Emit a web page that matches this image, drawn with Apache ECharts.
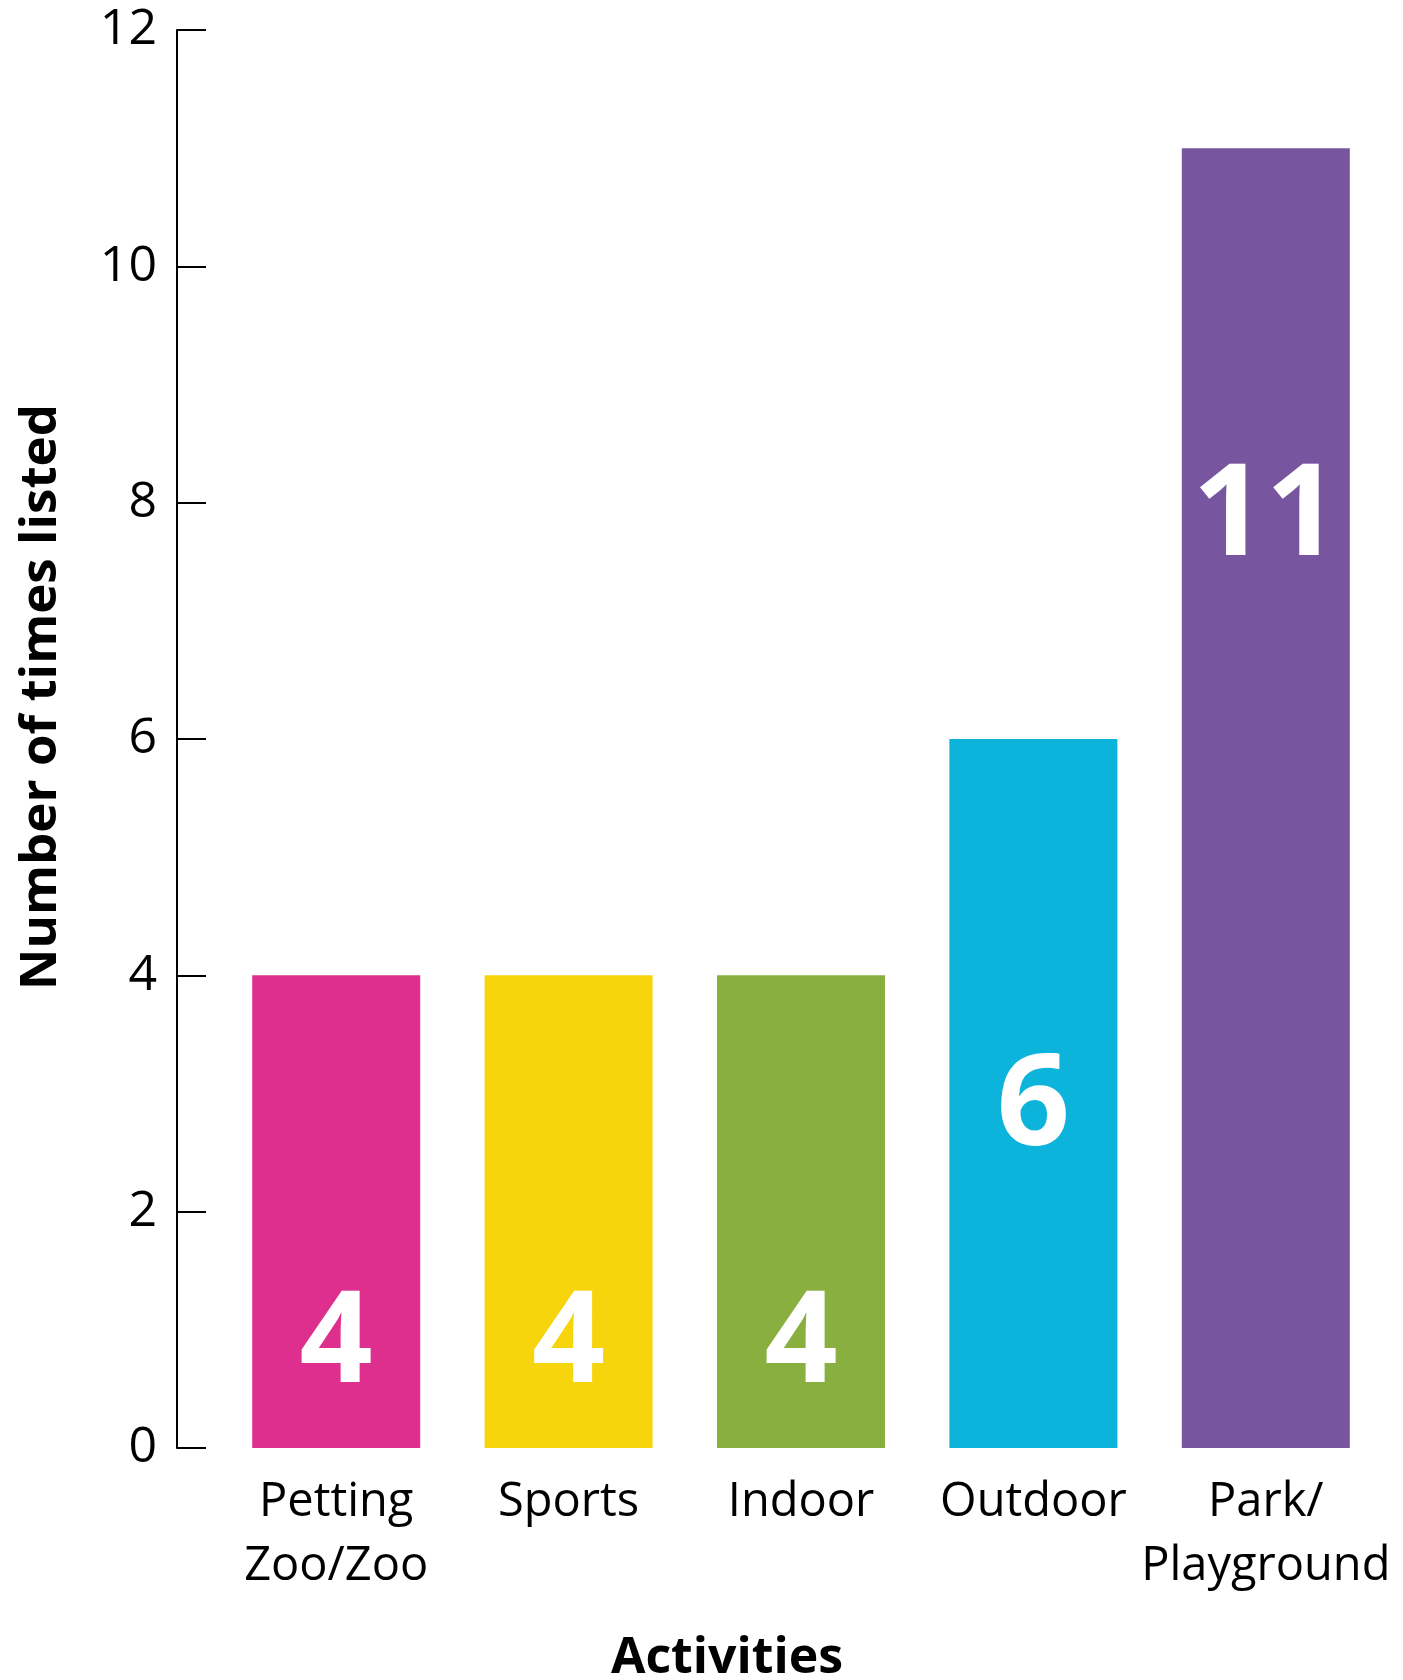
<!DOCTYPE html>
<html>
<head>
<meta charset="utf-8">
<script src="https://cdn.jsdelivr.net/npm/echarts@6/dist/echarts.min.js"></script>
<style>
html,body{margin:0;padding:0;background:#fff;}
#chart{width:1403px;height:1680px;}
</style>
</head>
<body>
<div id="chart"></div>
<script>
var categories = ['Petting\nZoo/Zoo', 'Sports', 'Indoor', 'Outdoor', 'Park/\nPlayground'];
var counts = [4, 4, 4, 6, 11];
var barColors = ['#DE2F8F', '#F7D50C', '#88AF40', '#0CB3DA', '#77559F'];
var yTicks = { min: 0, max: 12, interval: 2 };
var xTitle = 'Activities';
var yTitle = 'Number of times listed';

var FONT = '"Open Sans", "Noto Sans", sans-serif';
var chart = echarts.init(document.getElementById('chart'), null, { renderer: 'canvas' });

var option = {
  backgroundColor: '#ffffff',
  animation: false,
  title: {
    text: xTitle,
    left: 727,
    textAlign: 'center',
    top: 1634,
    padding: 0,
    textStyle: { fontFamily: FONT, fontSize: 50, fontWeight: 'bold', color: '#000' }
  },
  grid: { left: 220, right: 21, top: 30, bottom: 232, containLabel: false },
  xAxis: {
    type: 'category',
    data: categories,
    axisLine: { show: false },
    axisTick: { show: false },
    axisLabel: {
      interval: 0,
      fontFamily: FONT,
      fontSize: 47,
      lineHeight: 64,
      margin: 23,
      color: '#000'
    }
  },
  yAxis: {
    type: 'value',
    min: yTicks.min,
    max: yTicks.max,
    interval: yTicks.interval,
    offset: 43,
    name: yTitle,
    nameLocation: 'middle',
    nameRotate: 90,
    nameGap: 110,
    nameTextStyle: {
      fontFamily: FONT,
      fontSize: 51,
      fontWeight: 'bold',
      color: '#000',
      padding: [0, 0, 0, 84]
    },
    splitLine: { show: false },
    axisLine: { show: true, lineStyle: { color: '#000', width: 2 } },
    axisTick: { show: true, inside: true, length: 29, lineStyle: { color: '#000', width: 2 } },
    axisLabel: { fontFamily: FONT, fontSize: 50, color: '#000', margin: 20, padding: [10, 0, 0, 0] }
  },
  series: [{
    type: 'bar',
    barWidth: 168,
    data: counts.map(function (v, i) {
      return { value: v, itemStyle: { color: barColors[i] } };
    }),
    label: {
      show: true,
      position: ['50%', 370],
      align: 'center',
      verticalAlign: 'middle',
      fontFamily: FONT,
      fontSize: 128,
      fontWeight: 'bold',
      color: '#fff'
    }
  }]
};
chart.setOption(option);
</script>
</body>
</html>
